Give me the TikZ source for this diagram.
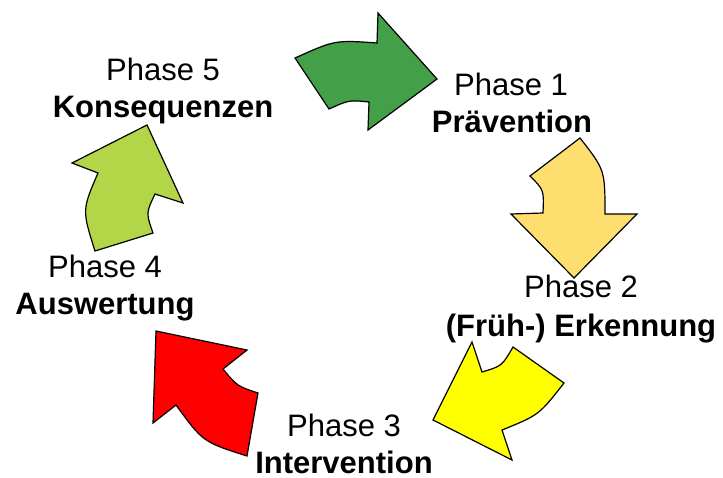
\documentclass[tikz,border=0pt]{standalone}
\usepackage{fontspec}
\setmainfont{Liberation Sans}
\definecolor{phaseone}{RGB}{68,160,72}
\definecolor{phasetwo}{RGB}{255,222,112}
\definecolor{phasethree}{RGB}{255,255,0}
\definecolor{phasefour}{RGB}{255,0,0}
\definecolor{phasefive}{RGB}{178,214,72}
\begin{document}
\begin{tikzpicture}[x=1pt,y=-1pt]

    \tikzset{
      curvedarrow/.style={
        draw=black,
        line width=1.2pt,
        line join=miter,
      },
      phasename/.style={
        anchor=base,
        inner sep=0pt,
        font=\fontsize{31}{37}\selectfont,
      },
      phasetitle/.style={
        phasename,
        font=\fontsize{31}{37}\selectfont\bfseries,
      },
    }
    \useasboundingbox (0,0) rectangle (723,477);

	% arrows
	\draw[curvedarrow,fill=phaseone] (295,58) .. controls (335,40) .. (377,43)--(378,13)--(437,79)--(368,130)--(369,102) .. controls (349,100) .. (329,109)--cycle;
	\draw[curvedarrow,fill=phasetwo] (580,138)--(530,176) .. controls (544,190) .. (543,213)--(511,214)--(574,278)--(637,214)--(605,214) .. controls (605,170) .. (580,138)--cycle;
	\draw[curvedarrow,fill=phasethree] (472,342)--(482,372) .. controls (502,366) .. (513,347)--(564,383) .. controls (539,415) .. (502,430)--(512,460)--(433,420)--cycle;
	\draw[curvedarrow,fill=phasefour] (156,331)--(247,350)--(223,369) .. controls (237,386) .. (258,393)--(247,456) .. controls (203,442) .. (176,405)--(153,423)--cycle;
	\draw[curvedarrow,fill=phasefive] (147,125)--(183,203)--(155,194) .. controls (146,213) .. (153,233)--(95,251) .. controls (82,210) .. (98,173)--(72,163)--cycle;

	% labels
	\node[phasename] (phase1) at (511,95) {Phase 1};
	\node[phasetitle] (praevention) at (512,132) {Prävention};
	\node[phasename] (phase2) at (581,297) {Phase 2};
	\node[phasetitle] (erkennung) at (581,336) {(Früh-) Erkennung};
	\node[phasename] (phase3) at (344,436) {Phase 3};
	\node[phasetitle] (intervention) at (344,473) {Intervention};
	\node[phasename] (phase4) at (105,277) {Phase 4};
	\node[phasetitle] (auswertung) at (105,314) {Auswertung};
	\node[phasename] (phase5) at (163,80) {Phase 5};
	\node[phasetitle] (konsequenzen) at (163,117) {Konsequenzen};

\end{tikzpicture}
\end{document}
